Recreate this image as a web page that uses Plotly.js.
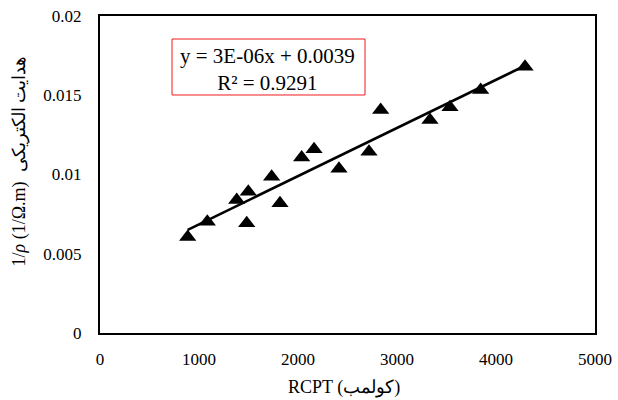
<!DOCTYPE html>
<html>
<head>
<meta charset="utf-8">
<script src="https://cdn.plot.ly/plotly-3.0.1.min.js"></script>
<style>
  html, body { margin: 0; padding: 0; background: #fff; }
  #chart { width: 618px; height: 400px; }
</style>
</head>
<body>
<div id="chart"></div>
<script>
// ---- data ----
const rcpt = [886, 1084, 1381, 1498, 1482, 1734, 1818, 2037, 2162, 2414, 2717, 2835, 3333, 3535, 3845, 4293];
const conductivity = [0.00606, 0.00702, 0.00839, 0.00891, 0.00692, 0.00986, 0.00818, 0.01108, 0.01159, 0.01037, 0.01144, 0.01407, 0.01344, 0.01424, 0.01533, 0.0168];
const xTickVals = [0, 1000, 2000, 3000, 4000, 5000];
const xTickText = ['0', '1000', '2000', '3000', '4000', '5000'];
const yTickVals = [0, 0.005, 0.01, 0.015, 0.02];
const yTickText = ['0', '0.005', '0.01', '0.015', '0.02'];
const equationLines = ['y = 3E-06x + 0.0039', 'R² = 0.9291'];
const xTitle = 'RCPT (کولمب)';
const yTitle = '1/<i>ρ</i> (1/Ω.m)  هدایت الکتریکی';

// ---- linear trendline (least squares) ----
const n = rcpt.length;
const mx = rcpt.reduce((a, b) => a + b, 0) / n;
const my = conductivity.reduce((a, b) => a + b, 0) / n;
let sxy = 0, sxx = 0;
for (let i = 0; i < n; i++) { sxy += (rcpt[i] - mx) * (conductivity[i] - my); sxx += (rcpt[i] - mx) ** 2; }
const slope = sxy / sxx;
const intercept = my - slope * mx;
const xMin = Math.min(...rcpt), xMax = Math.max(...rcpt);
const trendX = [xMin, xMax];
const trendY = trendX.map(x => intercept + slope * x);

const serif = 'Liberation Serif, Times New Roman, DejaVu Serif, serif';

const traces = [
  { x: trendX, y: trendY, mode: 'lines', type: 'scatter',
    line: { color: '#000', width: 2.6 }, hoverinfo: 'skip', showlegend: false },
  { x: rcpt, y: conductivity, mode: 'markers', type: 'scatter',
    marker: { symbol: 'triangle-up', size: 15, color: '#000' }, showlegend: false }
];

const layout = {
  width: 618, height: 400,
  margin: { l: 100, r: 23, t: 16, b: 67 },
  paper_bgcolor: '#fff', plot_bgcolor: '#fff',
  showlegend: false,
  font: { family: serif, color: '#000', size: 17 },
  xaxis: {
    range: [0, 5000], tickvals: xTickVals, ticktext: xTickText,
    showgrid: false, zeroline: false,
    showline: true, linecolor: '#000', linewidth: 2, mirror: true,
    ticks: 'outside', ticklen: 10, tickcolor: 'rgba(0,0,0,0)',
    tickfont: { family: serif, size: 17, color: '#000' }
  },
  yaxis: {
    range: [0, 0.02], tickvals: yTickVals, ticktext: yTickText,
    showgrid: false, zeroline: false,
    showline: true, linecolor: '#000', linewidth: 2, mirror: true,
    ticks: 'outside', ticklen: 13, tickcolor: 'rgba(0,0,0,0)',
    tickfont: { family: serif, size: 17, color: '#000' }
  },
  shapes: [
    { type: 'rect', xref: 'paper', yref: 'paper',
      x0: 0.1455, x1: 0.5354, y0: 0.7508, y1: 0.9274,
      line: { color: '#ee1c1c', width: 1 }, fillcolor: 'rgba(255,255,255,1)', layer: 'above' }
  ],
  annotations: [
    { xref: 'paper', yref: 'paper', x: 0.3374, y: 0.8328, xanchor: 'center', yanchor: 'middle',
      text: equationLines.join('<br>'), showarrow: false, align: 'center',
      font: { family: serif, size: 21, color: '#000' } },
    { xref: 'paper', yref: 'paper', x: 0.4929, y: -0.1735, xanchor: 'center', yanchor: 'middle',
      text: xTitle, showarrow: false, font: { family: serif, size: 18, color: '#000' } },
    { xref: 'paper', yref: 'paper', x: -0.1636, y: 0.541, xanchor: 'center', yanchor: 'middle',
      text: yTitle, textangle: -90, showarrow: false, font: { family: serif, size: 18, color: '#000' } }
  ]
};

Plotly.newPlot('chart', traces, layout, { displayModeBar: false, staticPlot: true });
</script>
</body>
</html>
